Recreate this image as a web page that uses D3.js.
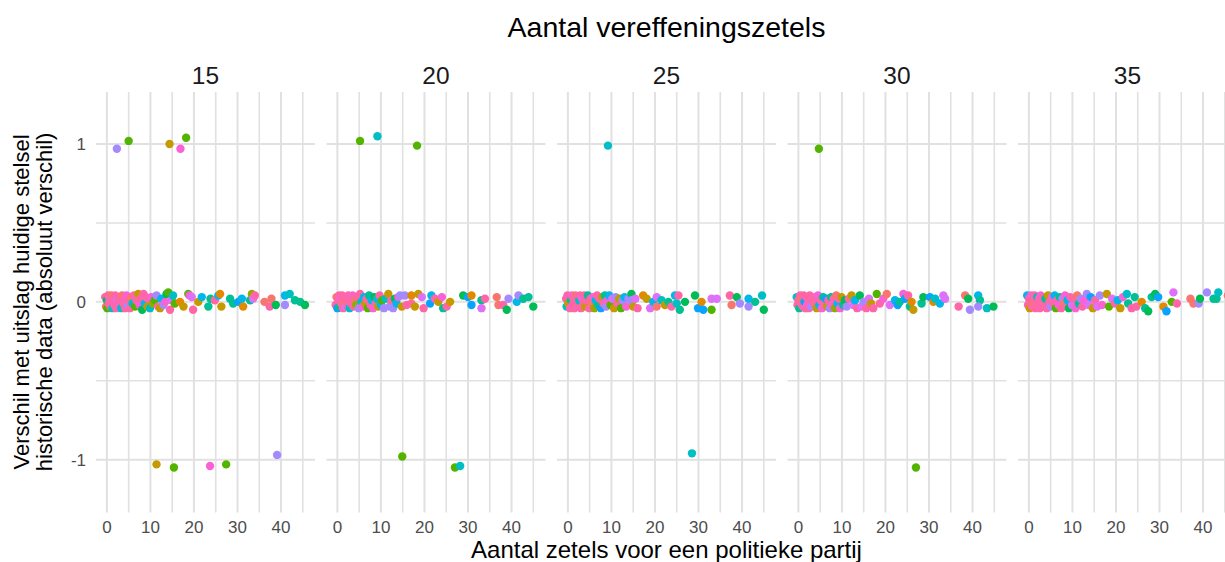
<!DOCTYPE html>
<html>
<head>
<meta charset="utf-8">
<script src="https://cdn.jsdelivr.net/npm/d3@7"></script>
<style>
  body { margin: 0; background: #fff; }
  svg { display: block; font-family: "Liberation Sans", Arial, sans-serif; }
</style>
</head>
<body>
<svg id="chart" width="1225" height="562"></svg>
<script>
/* ============================================================
   DATOS — un array por panel: [zetels, verschil, kleurIndex]
   ============================================================ */
const facetLabels = ['15', '20', '25', '30', '35'];
const xTicks = [0, 10, 20, 30, 40];
const yTicks = [-1, 0, 1];
const xGrid = [0, 5, 10, 15, 20, 25, 30, 35, 40, 45];
const yGrid = [-1, -0.5, 0, 0.5, 1];

// ggplot hue palette, 14 partijen
const partyColors = ['#F8766D', '#E38900', '#C49A00', '#99A800', '#53B400', '#00BC56', '#00C094',
                     '#00BFC4', '#00B6EB', '#06A4FF', '#A58AFF', '#DF70F8', '#FB61D7', '#FF66A8'];

const points15 = [
  [-0.4, 0.03, 13], [-0.2, -0.03, 0], [0.0, 0.01, 5], [0.1, -0.04, 4], [0.3, 0.04, 13], [0.4, -0.01, 13],
  [0.6, 0.02, 12], [0.8, -0.03, 13], [1.0, 0.04, 0], [1.1, 0.0, 13], [1.3, -0.04, 7], [1.5, 0.02, 13],
  [1.7, -0.02, 13], [1.9, 0.04, 13], [2.1, -0.04, 13], [2.3, 0.01, 11], [2.5, -0.01, 13], [2.7, 0.03, 13],
  [2.9, -0.03, 12], [3.1, 0.02, 13], [3.3, -0.04, 7], [3.5, 0.04, 0], [3.8, -0.01, 13], [4.0, 0.02, 13],
  [4.2, -0.04, 13], [4.5, 0.04, 12], [4.8, -0.02, 10], [5.0, 0.01, 13], [5.3, -0.04, 13], [5.6, 0.03, 0],
  [5.9, -0.01, 7], [6.2, 0.04, 13], [6.5, -0.03, 4], [6.8, 0.01, 13], [7.2, 0.05, 2], [7.5, -0.02, 12],
  [7.8, 0.02, 13], [8.1, -0.05, 5], [8.4, 0.05, 13], [8.7, -0.01, 8], [9.0, 0.03, 13], [9.3, -0.03, 2],
  [9.5, 0.02, 13], [9.9, -0.04, 7], [10.2, 0.03, 12], [10.6, -0.01, 3], [11.0, 0.01, 4], [11.4, 0.04, 10],
  [11.8, -0.03, 13], [12.2, -0.04, 2], [12.5, 0.02, 8], [13.0, -0.02, 10], [13.4, 0.0, 12], [13.7, 0.05, 5],
  [14.1, 0.06, 4], [14.5, -0.05, 13], [14.8, 0.01, 11], [15.2, 0.04, 7], [15.6, -0.01, 4],
  [16.8, 0.0, 1], [17.6, -0.03, 2], [18.7, 0.05, 4], [19.0, 0.04, 12], [19.5, 0.03, 11], [19.8, -0.05, 13],
  [21.0, 0.0, 2], [21.8, 0.03, 8], [23.3, -0.03, 6], [23.8, 0.02, 6], [24.8, 0.01, 13], [25.6, 0.04, 8],
  [26.0, 0.05, 1], [26.3, -0.03, 2], [28.3, 0.02, 6], [29.0, -0.01, 6], [30.2, 0.0, 9], [31.0, 0.02, 8],
  [31.3, -0.03, 1], [32.9, 0.01, 6], [33.3, 0.05, 3], [33.6, 0.02, 11], [34.0, 0.04, 13], [36.2, 0.0, 0],
  [37.4, -0.03, 13], [37.8, 0.02, 0], [38.8, -0.02, 5], [40.9, 0.04, 8], [40.9, -0.02, 10], [42.0, 0.05, 7],
  [43.2, 0.01, 6], [44.4, 0.0, 6], [45.5, -0.02, 5],
  [2.3, 0.97, 10], [5.0, 1.02, 4], [14.4, 1.0, 2], [16.9, 0.97, 12], [18.2, 1.04, 4],
  [11.4, -1.03, 2], [15.4, -1.05, 4], [23.7, -1.04, 12], [27.4, -1.03, 4], [39.1, -0.97, 10]
];

const points20 = [
  [-0.4, -0.02, 13], [-0.2, 0.03, 0], [0.0, -0.04, 9], [0.2, 0.01, 13], [0.4, 0.04, 13], [0.5, -0.03, 6],
  [0.7, 0.02, 12], [0.9, -0.01, 13], [1.1, 0.04, 13], [1.3, -0.04, 13], [1.5, 0.0, 0], [1.7, 0.03, 13],
  [1.9, -0.03, 11], [2.1, 0.02, 13], [2.3, -0.02, 13], [2.5, 0.04, 13], [2.8, -0.04, 7], [3.0, 0.01, 13],
  [3.2, -0.01, 13], [3.5, 0.04, 12], [3.7, -0.03, 13], [4.0, 0.02, 0], [4.3, -0.02, 3], [4.6, 0.03, 13],
  [4.9, -0.04, 10], [5.2, 0.05, 13], [5.5, 0.0, 7], [5.8, -0.03, 12], [6.1, 0.03, 8], [6.4, -0.01, 2],
  [6.7, 0.02, 13], [7.0, -0.04, 4], [7.3, 0.04, 6], [7.6, -0.02, 13], [7.9, 0.01, 8], [8.2, -0.04, 12],
  [8.5, 0.03, 5], [8.8, -0.01, 13], [9.1, 0.02, 7], [9.4, -0.03, 2], [9.7, 0.04, 13], [10.0, -0.02, 8],
  [10.3, 0.01, 4], [10.7, -0.04, 10], [11.1, 0.02, 7], [11.7, 0.05, 2], [12.0, -0.03, 10], [12.4, 0.01, 13],
  [12.8, -0.04, 10], [13.2, 0.02, 5], [13.6, -0.01, 8], [14.0, 0.03, 12], [14.4, 0.04, 10], [14.8, -0.03, 2],
  [15.5, 0.04, 10], [15.9, -0.02, 13],
  [17.0, 0.04, 1], [17.0, -0.01, 13], [17.8, -0.03, 2], [18.6, 0.05, 2], [19.4, 0.03, 11], [19.8, -0.04, 13],
  [21.3, -0.01, 9], [21.6, 0.04, 8], [22.4, 0.02, 13], [23.2, 0.0, 2], [24.0, 0.03, 12], [24.3, -0.04, 6],
  [25.1, -0.03, 13], [25.9, 0.0, 2], [28.9, 0.04, 5], [30.0, 0.03, 9], [30.8, 0.04, 1], [30.8, -0.02, 9],
  [33.1, 0.01, 6], [33.1, -0.04, 11], [33.9, 0.02, 13], [36.6, 0.03, 0], [37.0, -0.02, 0], [38.1, -0.02, 13],
  [38.9, -0.05, 5], [39.3, 0.02, 10], [41.2, 0.0, 8], [41.6, 0.04, 10], [42.7, 0.02, 6], [43.9, 0.03, 6],
  [45.0, -0.03, 5],
  [5.2, 1.02, 4], [9.2, 1.05, 7], [18.3, 0.99, 4], [14.9, -0.98, 4], [27.0, -1.05, 4], [28.2, -1.04, 7]
];

const points25 = [
  [-0.4, 0.02, 13], [-0.3, -0.03, 7], [-0.1, 0.04, 13], [0.1, -0.01, 2], [0.3, 0.03, 13], [0.5, -0.04, 13],
  [0.7, 0.01, 6], [0.9, 0.04, 12], [1.1, -0.02, 13], [1.3, 0.02, 13], [1.5, -0.04, 13], [1.7, 0.04, 0],
  [1.9, -0.01, 13], [2.1, 0.03, 13], [2.3, -0.03, 13], [2.6, 0.01, 7], [2.8, 0.04, 13], [3.0, -0.04, 13],
  [3.3, 0.02, 12], [3.5, -0.02, 13], [3.8, 0.04, 13], [4.0, -0.03, 2], [4.3, 0.01, 13], [4.6, 0.04, 6],
  [4.9, -0.04, 13], [5.2, 0.02, 13], [5.5, -0.01, 0], [5.8, 0.03, 12], [6.1, -0.04, 3], [6.4, 0.01, 8],
  [6.7, 0.04, 13], [7.0, -0.02, 6], [7.3, 0.02, 13], [7.6, -0.04, 9], [7.9, 0.03, 2], [8.2, -0.01, 13],
  [8.5, 0.04, 6], [8.8, -0.03, 10], [9.1, 0.01, 12], [9.5, 0.04, 8], [9.8, -0.02, 4], [10.2, 0.02, 11],
  [10.6, -0.04, 2], [11.0, 0.03, 10], [11.4, -0.01, 13], [11.8, 0.02, 2], [12.2, -0.04, 4], [12.6, 0.01, 10],
  [13.0, 0.03, 8], [13.4, -0.03, 12], [13.9, 0.02, 10], [14.6, 0.05, 5], [14.6, 0.01, 10], [15.0, -0.03, 2],
  [15.5, 0.02, 11], [16.0, -0.04, 13],
  [17.3, 0.04, 1], [18.1, 0.02, 2], [18.9, -0.04, 11], [19.6, 0.0, 8], [20.4, 0.03, 11], [20.4, -0.03, 0],
  [21.5, 0.01, 7], [22.3, -0.02, 2], [23.1, 0.0, 6], [23.8, -0.03, 13], [24.6, 0.04, 8], [25.0, -0.01, 7],
  [25.4, 0.04, 13], [25.7, -0.05, 6], [26.9, 0.0, 5], [29.2, 0.04, 5], [29.9, -0.04, 9], [30.7, 0.0, 1],
  [31.1, -0.05, 9], [33.0, -0.05, 4], [33.0, 0.02, 11], [34.2, 0.02, 11], [37.2, 0.04, 13], [37.6, -0.02, 0],
  [38.8, 0.03, 5], [39.5, -0.01, 10], [41.5, -0.03, 10], [41.5, 0.02, 8], [43.0, 0.0, 6], [44.6, 0.04, 7],
  [45.0, -0.05, 5],
  [9.2, 0.99, 7], [28.5, -0.96, 7]
];

const points30 = [
  [-0.4, 0.03, 7], [-0.2, -0.02, 13], [0.0, 0.01, 13], [0.2, -0.04, 6], [0.4, 0.04, 13], [0.6, -0.01, 13],
  [0.8, 0.02, 0], [1.0, -0.03, 13], [1.2, 0.04, 13], [1.4, 0.0, 9], [1.6, -0.04, 13], [1.8, 0.03, 13],
  [2.0, -0.02, 12], [2.2, 0.02, 13], [2.4, -0.04, 13], [2.6, 0.04, 13], [2.8, 0.0, 13], [3.0, -0.03, 10],
  [3.3, 0.03, 13], [3.6, -0.01, 13], [3.9, 0.02, 13], [4.2, -0.04, 2], [4.5, 0.04, 12], [4.8, -0.02, 8],
  [5.1, 0.01, 13], [5.4, -0.04, 12], [5.7, 0.03, 6], [6.0, -0.01, 13], [6.3, 0.02, 9], [6.6, -0.03, 2],
  [6.9, 0.01, 13], [7.2, -0.04, 10], [7.5, 0.03, 6], [7.8, -0.02, 12], [8.1, 0.02, 13], [8.4, -0.04, 3],
  [8.7, 0.04, 0], [9.0, -0.01, 8], [9.3, 0.02, 13], [9.6, -0.04, 12], [9.9, 0.03, 2], [10.3, -0.02, 6],
  [10.7, 0.01, 5], [11.1, -0.03, 10], [11.6, 0.02, 13], [12.2, 0.04, 2], [12.6, -0.02, 11], [13.0, 0.01, 8],
  [13.5, -0.04, 13], [14.1, 0.04, 5], [14.5, -0.03, 11], [15.0, 0.0, 10], [15.6, -0.04, 13], [16.2, 0.02, 11],
  [16.7, -0.01, 2], [17.2, -0.04, 13],
  [18.0, 0.05, 4], [18.7, -0.01, 13], [19.5, 0.02, 12], [20.3, 0.05, 0], [21.0, -0.02, 11], [22.2, 0.01, 8],
  [22.8, -0.02, 9], [23.3, 0.0, 6], [24.1, 0.05, 12], [24.5, 0.02, 9], [25.2, 0.04, 13], [25.6, -0.03, 6],
  [26.0, 0.0, 1], [26.4, -0.05, 2], [28.3, -0.01, 6], [28.7, 0.03, 5], [30.2, 0.03, 9], [31.0, 0.0, 1],
  [31.4, 0.02, 7], [32.5, -0.01, 8], [33.3, 0.04, 11], [33.7, 0.02, 11], [36.8, -0.03, 13], [38.3, 0.04, 0],
  [39.0, 0.02, 5], [39.4, -0.05, 10], [41.3, 0.04, 8], [41.7, 0.01, 6], [41.3, -0.03, 10], [43.3, -0.04, 7],
  [44.8, -0.03, 5],
  [4.7, 0.97, 4], [27.0, -1.05, 4]
];

const points35 = [
  [-0.4, 0.04, 8], [-0.2, -0.02, 13], [0.0, 0.02, 13], [0.2, -0.04, 2], [0.3, 0.01, 13], [0.5, 0.04, 12],
  [0.7, -0.03, 13], [0.9, 0.02, 13], [1.1, -0.01, 0], [1.3, 0.04, 13], [1.5, -0.04, 13], [1.7, 0.01, 13],
  [1.9, 0.03, 7], [2.1, -0.02, 13], [2.3, 0.02, 13], [2.5, -0.04, 13], [2.7, 0.04, 12], [2.9, -0.01, 13],
  [3.2, 0.03, 13], [3.5, -0.03, 13], [3.8, 0.02, 6], [4.1, -0.04, 13], [4.4, 0.04, 2], [4.7, 0.0, 13],
  [5.0, -0.03, 10], [5.3, 0.03, 12], [5.6, -0.01, 13], [5.9, 0.04, 8], [6.2, -0.04, 4], [6.5, 0.01, 13],
  [6.8, -0.02, 12], [7.1, 0.03, 6], [7.4, -0.04, 13], [7.7, 0.02, 10], [8.0, -0.01, 0], [8.3, 0.04, 12],
  [8.6, -0.03, 13], [8.9, 0.01, 8], [9.2, -0.04, 5], [9.5, 0.03, 13], [9.9, -0.02, 11], [10.3, 0.02, 13],
  [10.7, -0.04, 12], [11.1, 0.04, 0], [11.5, -0.01, 6], [11.9, 0.02, 10], [12.3, -0.03, 13], [12.7, 0.01, 12],
  [13.3, 0.05, 10], [13.7, -0.02, 11], [14.2, 0.03, 9], [14.7, -0.04, 2], [15.2, 0.01, 13], [15.7, -0.03, 11],
  [16.3, 0.04, 10],
  [16.8, -0.02, 12], [17.9, 0.05, 2], [18.4, -0.03, 4], [19.1, 0.02, 11], [19.8, -0.01, 13], [20.4, 0.01, 8],
  [21.0, -0.04, 2], [21.6, 0.03, 12], [22.5, 0.05, 7], [22.8, -0.01, 6], [23.6, -0.04, 13], [24.3, 0.03, 6],
  [24.7, -0.03, 13], [25.9, 0.0, 1], [26.7, -0.04, 6], [27.4, -0.06, 5], [28.2, 0.03, 6], [29.0, 0.05, 5],
  [29.7, 0.03, 9], [30.9, -0.03, 1], [31.6, -0.06, 9], [32.8, 0.0, 4], [33.2, 0.06, 11], [34.0, -0.01, 13],
  [37.1, 0.02, 0], [37.8, -0.01, 0], [39.0, -0.01, 10], [39.3, 0.02, 5], [40.9, 0.06, 10], [42.4, 0.02, 6],
  [43.1, 0.02, 6], [43.5, 0.06, 7], [45.7, 0.04, 0], [46.5, 0.02, 6]
];

const facetPoints = [points15, points20, points25, points30, points35];


/* ============================================================
   LAYOUT
   ============================================================ */
const svg = d3.select('#chart');
const FONT_GREY = '#4d4d4d';
const GRID = '#e1e1e1';

// facetten naast elkaar; het laatste paneel valt rechts deels buiten beeld
const facetX = d3.scaleBand()
  .domain(facetLabels)
  .range([96, 1237])
  .paddingInner(0.05);

const x = d3.scaleLinear().domain([-2.5, 47.8]).range([0, facetX.bandwidth()]);
const y = d3.scaleLinear().domain([-1.335, 1.33]).range([512.5, 92]);


/* ============================================================
   PANELEN
   ============================================================ */
facetLabels.forEach(function(label, i) {

  const g = svg.append('g')
    .attr('transform', `translate(${facetX(label)},0)`);

  // grid
  g.selectAll('.hgrid')
    .data(yGrid)
    .join('line')
      .attr('x1', 0).attr('x2', facetX.bandwidth())
      .attr('y1', d => y(d)).attr('y2', d => y(d))
      .attr('stroke', GRID)
      .attr('stroke-width', d => Number.isInteger(d) ? 2 : 1.6);

  g.selectAll('.vgrid')
    .data(xGrid)
    .join('line')
      .attr('x1', d => x(d)).attr('x2', d => x(d))
      .attr('y1', y.range()[1]).attr('y2', y.range()[0])
      .attr('stroke', GRID)
      .attr('stroke-width', d => d % 10 === 0 ? 2 : 1.6);

  // strip label
  g.append('text')
    .attr('x', facetX.bandwidth() / 2)
    .attr('y', 84)
    .attr('text-anchor', 'middle')
    .attr('font-size', 24.5)
    .attr('fill', '#1a1a1a')
    .text(label);

  // x tick labels
  g.selectAll('.xtick')
    .data(xTicks)
    .join('text')
      .attr('x', d => x(d))
      .attr('y', 533)
      .attr('text-anchor', 'middle')
      .attr('font-size', 17)
      .attr('fill', FONT_GREY)
      .text(d => d);

  // punten
  g.selectAll('circle')
    .data(facetPoints[i])
    .join('circle')
      .attr('cx', d => x(d[0]))
      .attr('cy', d => y(d[1]))
      .attr('r', 4.2)
      .attr('fill', d => partyColors[d[2]]);
});


/* ============================================================
   AS-LABELS EN TITELS
   ============================================================ */
svg.selectAll('.ytick')
  .data(yTicks)
  .join('text')
    .attr('x', 86)
    .attr('y', d => y(d) + 6)
    .attr('text-anchor', 'end')
    .attr('font-size', 17)
    .attr('fill', FONT_GREY)
    .text(d => d);

svg.append('text')
  .attr('x', 666.5).attr('y', 37)
  .attr('text-anchor', 'middle')
  .attr('font-size', 28.5)
  .attr('fill', '#000')
  .text('Aantal vereffeningszetels');

svg.append('text')
  .attr('x', 666.5).attr('y', 558)
  .attr('text-anchor', 'middle')
  .attr('font-size', 24)
  .attr('fill', '#000')
  .text('Aantal zetels voor een politieke partij');

const yTitle = svg.append('text')
  .attr('transform', 'translate(0,302) rotate(-90)')
  .attr('text-anchor', 'middle')
  .attr('font-size', 22)
  .attr('fill', '#000');

yTitle.append('tspan').attr('x', 0).attr('y', 29).text('Verschil met uitslag huidige stelsel');
yTitle.append('tspan').attr('x', 0).attr('y', 52).text('historische data (absoluut verschil)');
</script>
</body>
</html>
